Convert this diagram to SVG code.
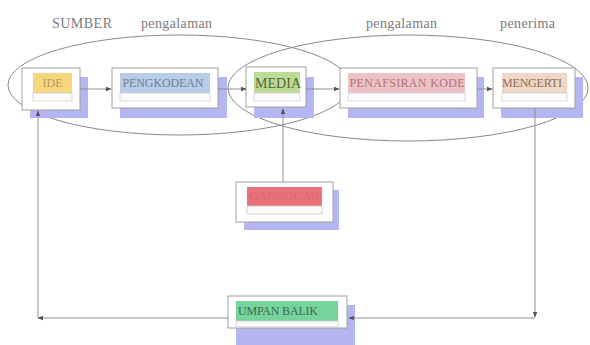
<svg xmlns="http://www.w3.org/2000/svg" width="590" height="345" viewBox="0 0 590 345">
<style>
.ell{fill:none;stroke:#8a8a8a;stroke-width:1}
.sh{fill:#b5b5f2}
.box{fill:#ffffff;stroke:#a0a0a0;stroke-width:1}
.strip{fill:#fbfbfb;stroke:#d0d0d0;stroke-width:0.8}
.lbl{font-family:"Liberation Serif",serif;font-size:12px;text-anchor:middle}
.top{font-family:"Liberation Serif",serif;font-size:14px;fill:#7a7a7a}
.con{fill:none;stroke:#8f8f8f;stroke-width:1}
</style>
<defs>
<marker id="ah" viewBox="0 0 10 10" refX="9" refY="5" markerWidth="6" markerHeight="6" orient="auto" markerUnits="userSpaceOnUse">
<path d="M0,1 L10,5 L0,9 z" fill="#555"/>
</marker>
</defs>
<rect width="590" height="345" fill="#ffffff"/>
<text class="top" x="52" y="28" textLength="60">SUMBER</text>
<text class="top" x="141" y="28" textLength="71">pengalaman</text>
<text class="top" x="366" y="28" textLength="71">pengalaman</text>
<text class="top" x="500" y="28" textLength="55">penerima</text>
<ellipse class="ell" cx="179" cy="85" rx="171" ry="50"/>
<ellipse class="ell" cx="408" cy="88" rx="180" ry="53"/>
<g id="ide">
<rect class="sh" x="30" y="77" width="58" height="41"/>
<rect class="box" x="22" y="68" width="58" height="42"/>
<rect x="33" y="73" width="39" height="20" fill="#f6d67f"/>
<rect class="strip" x="33" y="93" width="39" height="8"/>
<text class="lbl" x="52.5" y="87" fill="#b39a5a">IDE</text>
</g>
<g id="pengkodean">
<rect class="sh" x="120" y="77" width="107" height="41"/>
<rect class="box" x="112" y="68" width="106" height="40"/>
<rect x="120" y="73" width="90" height="20" fill="#b7cce6"/>
<rect class="strip" x="120" y="93" width="90" height="8"/>
<text class="lbl" x="163" y="87" fill="#6d8098" textLength="81">PENGKODEAN</text>
</g>
<g id="media">
<rect class="sh" x="254" y="77" width="60" height="41"/>
<rect class="box" x="246" y="67" width="60" height="40"/>
<rect x="254" y="72" width="46" height="21" fill="#bcdc95"/>
<rect class="strip" x="254" y="93" width="46" height="8"/>
<text class="lbl" x="278" y="88" fill="#56663c" style="font-size:14px" textLength="46">MEDIA</text>
</g>
<g id="penafsiran">
<rect class="sh" x="348" y="77" width="136" height="41"/>
<rect class="box" x="340" y="68" width="137" height="40"/>
<rect x="348" y="73" width="117" height="20" fill="#ebc2c6"/>
<rect class="strip" x="348" y="93" width="117" height="8"/>
<text class="lbl" x="407" y="87" fill="#b07474" textLength="115">PENAFSIRAN KODE</text>
</g>
<g id="mengerti">
<rect class="sh" x="501" y="77" width="82" height="41"/>
<rect class="box" x="493" y="68" width="82" height="40"/>
<rect x="502" y="73" width="65" height="20" fill="#f0d7c5"/>
<rect class="strip" x="502" y="93" width="65" height="8"/>
<text class="lbl" x="532" y="87" fill="#86705a" textLength="60">MENGERTI</text>
</g>
<g id="gangguan">
<rect class="sh" x="244" y="190" width="95" height="40"/>
<rect class="box" x="236" y="182" width="97" height="40"/>
<rect x="247" y="187" width="75" height="19" fill="#e9727a"/>
<rect class="strip" x="247" y="206" width="75" height="8"/>
<text class="lbl" x="284.5" y="200" fill="#da6971" textLength="70">GANGGUAN</text>
</g>
<g id="umpanbalik">
<rect class="sh" x="236" y="305" width="119" height="40"/>
<rect class="box" x="228" y="296" width="119" height="32"/>
<rect x="236" y="301" width="102" height="20" fill="#74d49c"/>
<rect class="strip" x="236" y="321" width="102" height="6"/>
<text class="lbl" x="278" y="315" fill="#3d6b4b" textLength="80">UMPAN BALIK</text>
</g>
<g id="connectors">
<path class="con" d="M80,89 H111" marker-end="url(#ah)"/>
<path class="con" d="M218,89 H246" marker-end="url(#ah)"/>
<path class="con" d="M306,89 H339" marker-end="url(#ah)"/>
<path class="con" d="M477,89 H492" marker-end="url(#ah)"/>
<path class="con" d="M283,182 V109" marker-end="url(#ah)"/>
<path class="con" d="M535,108 V317" marker-end="url(#ah)"/>
<path class="con" d="M535,318 H349" marker-end="url(#ah)"/>
<path class="con" d="M228,318 H38" marker-end="url(#ah)"/>
<path class="con" d="M38,318 V111" marker-end="url(#ah)"/>
</g>
</svg>
